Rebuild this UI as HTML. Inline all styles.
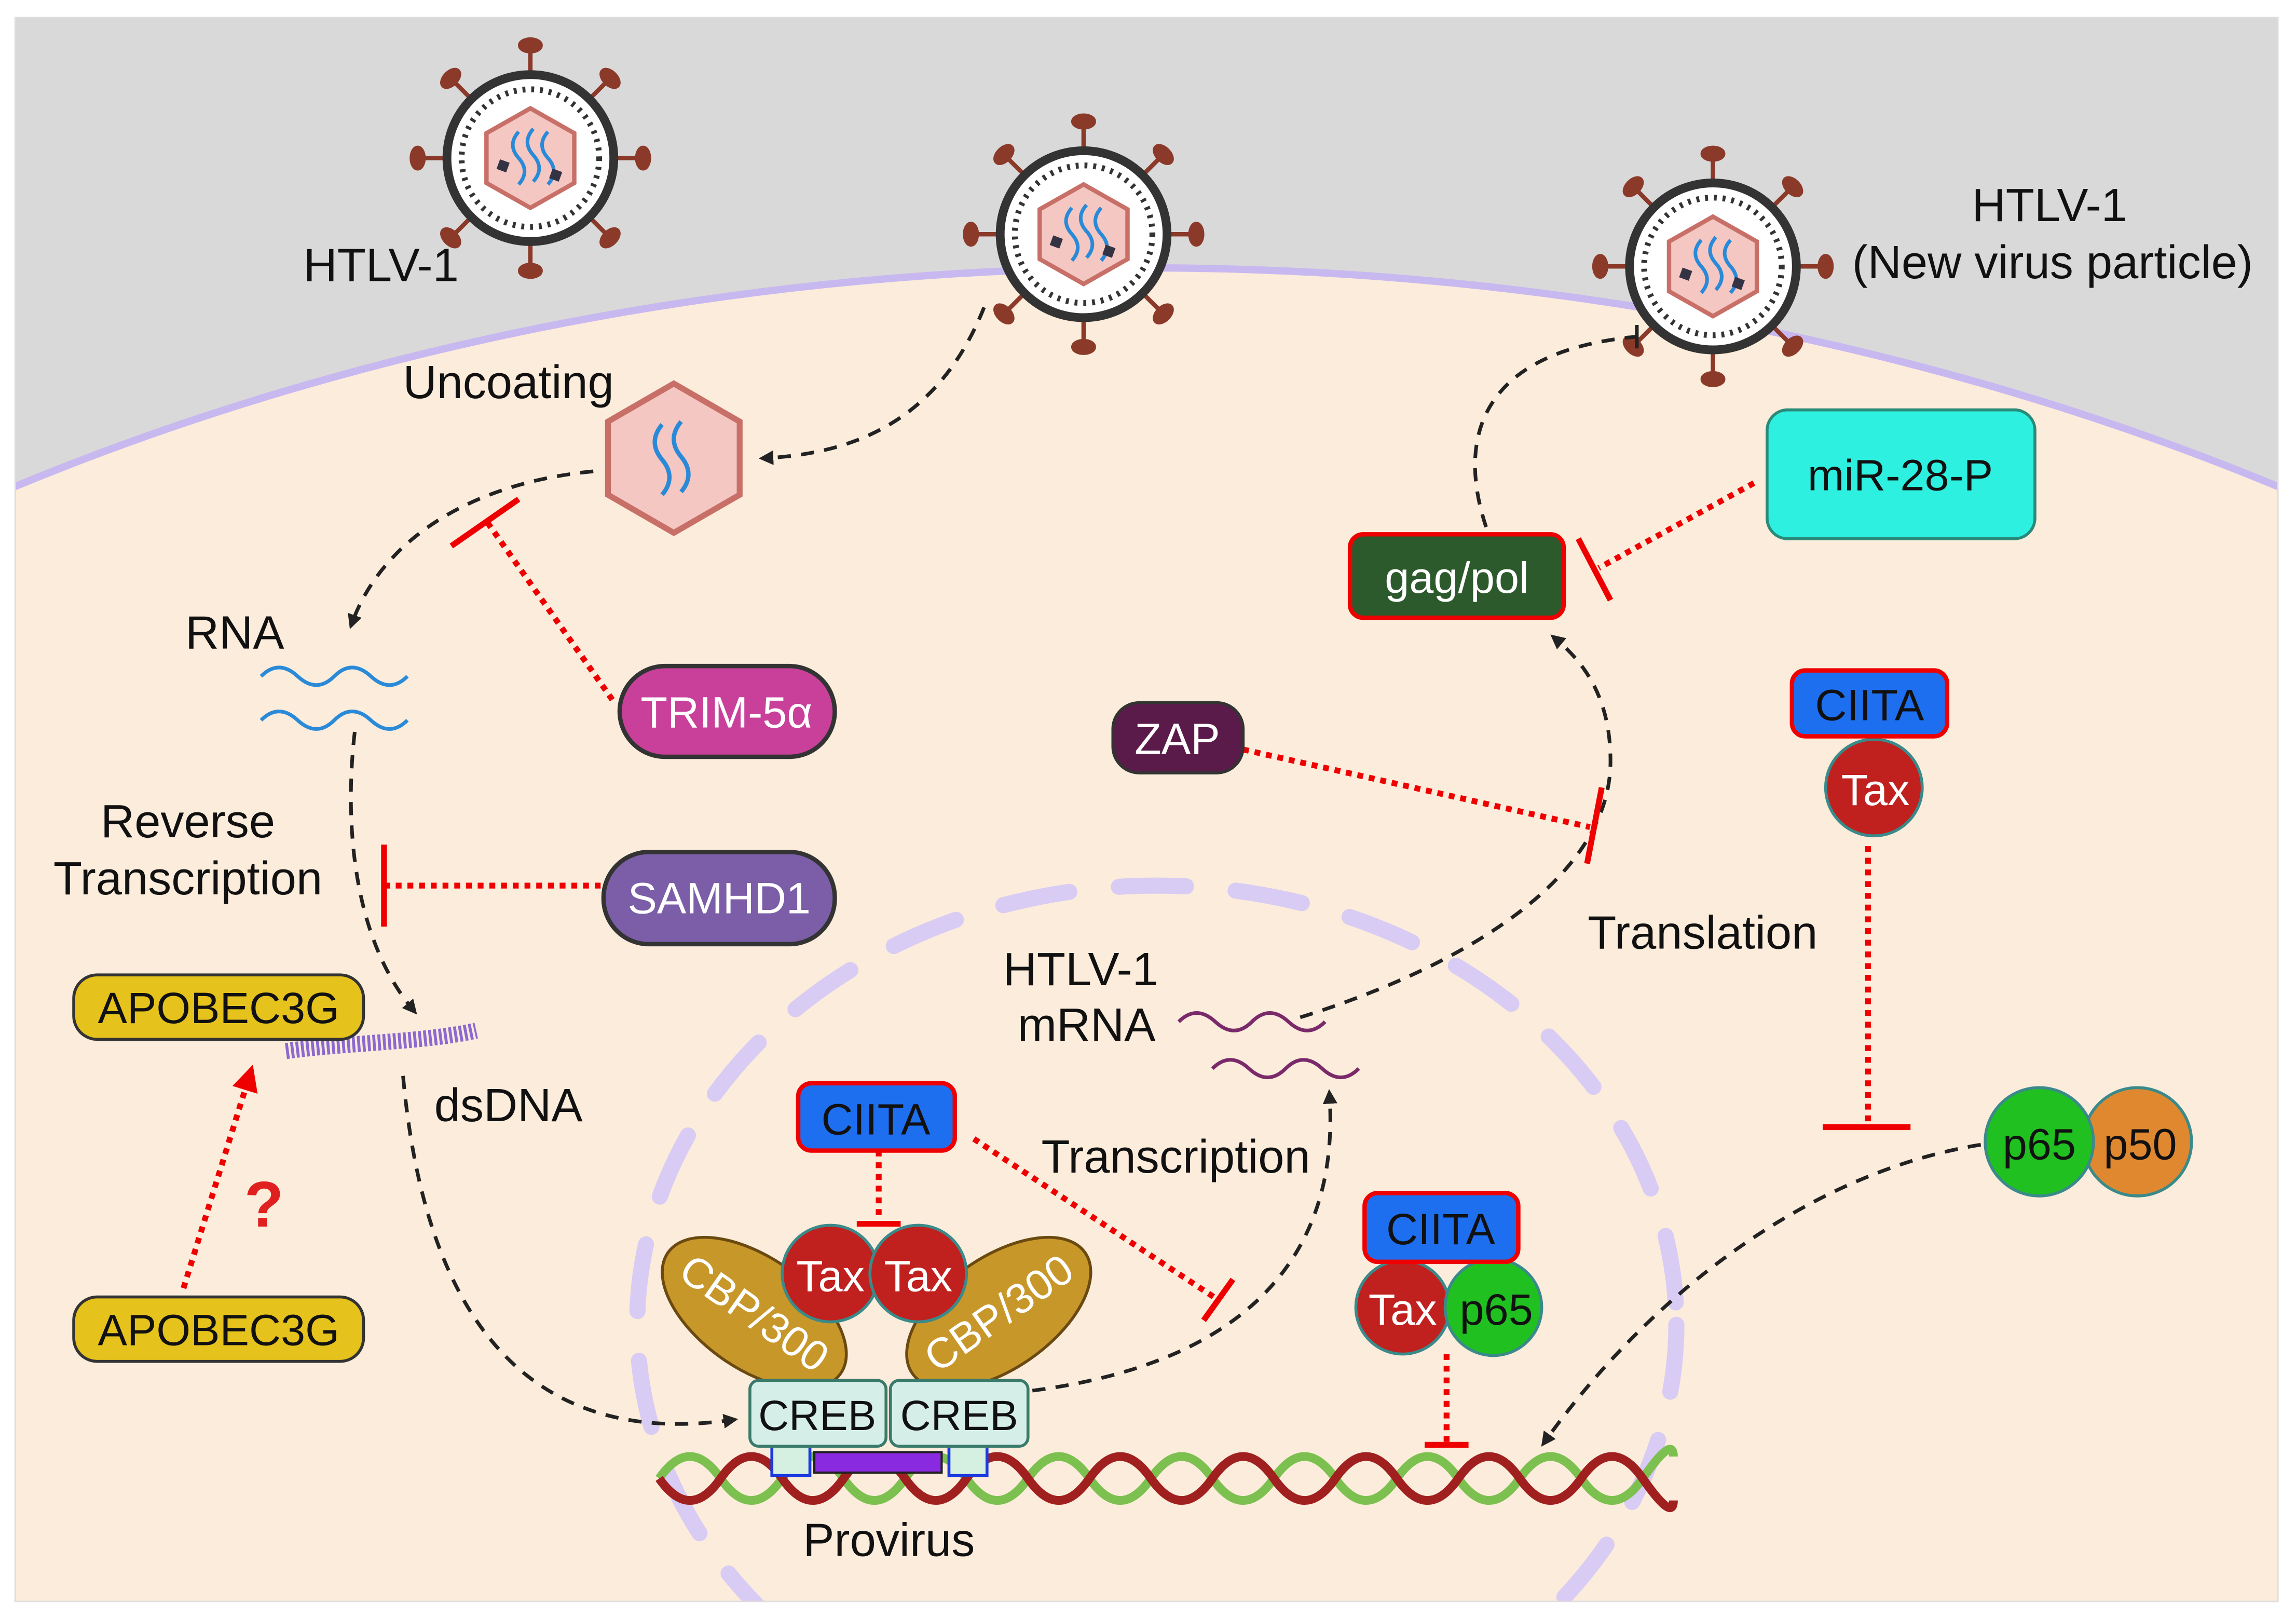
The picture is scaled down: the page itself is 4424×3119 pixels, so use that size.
<!DOCTYPE html>
<html><head><meta charset="utf-8"><style>
html,body{margin:0;padding:0;background:#fff;width:4424px;height:3119px;overflow:hidden}
svg{display:block}
text{font-family:"Liberation Sans",sans-serif}
</style></head><body>
<svg width="4424" height="3119" viewBox="0 0 1568 1106" xmlns="http://www.w3.org/2000/svg">
<defs>
<marker id="ah" markerWidth="10" markerHeight="10" refX="6" refY="5" orient="auto" markerUnits="userSpaceOnUse"><path d="M0,0 L10,5 L0,10 Z" fill="#222"/></marker>
<marker id="rh" markerWidth="18" markerHeight="18" refX="10" refY="9" orient="auto" markerUnits="userSpaceOnUse"><path d="M0,0 L18,9 L0,18 Z" fill="#e00"/></marker>
<clipPath id="fr"><rect x="10" y="12" width="1546" height="1082"/></clipPath>
<g id="virus">
 <g stroke="#8b3a2a" stroke-width="3" fill="#8b3a2a">
  <g id="sp"><line x1="0" y1="-55" x2="0" y2="-75"/><ellipse cx="0" cy="-77" rx="7" ry="4"/></g>
  <use href="#sp" transform="rotate(45)"/><use href="#sp" transform="rotate(90)"/><use href="#sp" transform="rotate(135)"/>
  <use href="#sp" transform="rotate(180)"/><use href="#sp" transform="rotate(225)"/><use href="#sp" transform="rotate(270)"/><use href="#sp" transform="rotate(315)"/>
 </g>
 <circle r="57" fill="#fff" stroke="#333" stroke-width="6"/>
 <circle r="47" fill="none" stroke="#333" stroke-width="4" stroke-dasharray="2 4"/>
 <polygon points="0,-34 30,-17 30,17 0,34 -30,17 -30,-17" fill="#f4c7c3" stroke="#c87068" stroke-width="3"/>
 <path d="M-8,-18 q-8,9 0,18 q8,9 0,18 M2,-20 q-8,9 0,18 q8,9 0,18 M12,-18 q-8,9 0,18 q8,9 0,18" fill="none" stroke="#2a8ad8" stroke-width="2.5"/>
 <rect x="-22" y="2" width="7" height="7" fill="#334" transform="rotate(20 -18 5)"/>
 <rect x="14" y="8" width="7" height="7" fill="#334" transform="rotate(20 17 11)"/>
</g>
</defs>
<rect width="1568" height="1106" fill="#fff"/>
<g clip-path="url(#fr)">
 <rect x="10" y="12" width="1546" height="1082" fill="#d9d9d9"/>
 <ellipse cx="783" cy="1383" rx="1600" ry="1200" fill="#fcecdb" stroke="#c8b8f0" stroke-width="5"/>
 <ellipse cx="790" cy="905" rx="355" ry="300" fill="none" stroke="#d8ccf4" stroke-width="11" stroke-linecap="round" stroke-dasharray="46 34"/>
</g>
<rect x="10" y="12" width="1546" height="1082" fill="none" stroke="#ddd" stroke-width="1"/>

<use href="#virus" x="362" y="108"/>
<use href="#virus" x="740" y="160"/>
<use href="#virus" x="1170" y="182"/>

<g font-size="32" fill="#111">
<text x="260" y="192" text-anchor="middle">HTLV-1</text>
<text x="347" y="272" text-anchor="middle">Uncoating</text>
<text x="160" y="443" text-anchor="middle">RNA</text>
<text x="128" y="572" text-anchor="middle">Reverse</text>
<text x="128" y="611" text-anchor="middle">Transcription</text>
<text x="347" y="766" text-anchor="middle">dsDNA</text>
<text x="607" y="1063" text-anchor="middle">Provirus</text>
<text x="803" y="801" text-anchor="middle">Transcription</text>
<text x="738" y="673" text-anchor="middle">HTLV-1</text>
<text x="742" y="711" text-anchor="middle">mRNA</text>
<text x="1163" y="648" text-anchor="middle">Translation</text>
<text x="1400" y="151" text-anchor="middle">HTLV-1</text>
<text x="1402" y="190" text-anchor="middle">(New virus particle)</text>
</g>

<polygon points="460,262 505,288 505,338 460,364 415,338 415,288" fill="#f4c7c3" stroke="#c87068" stroke-width="4"/>
<path d="M452,290 q-10,12 0,24 q10,12 0,24 M465,288 q-10,12 0,24 q10,12 0,24" fill="none" stroke="#2a8ad8" stroke-width="3"/>

<g fill="none" stroke="#222" stroke-width="2.5" stroke-dasharray="9 7">
<path d="M672,210 C640,290 580,310 522,313" marker-end="url(#ah)"/>
<path d="M405,322 C320,330 260,370 240,426" marker-end="url(#ah)"/>
<path d="M242,500 C235,560 240,640 282,690" marker-end="url(#ah)"/>
<path d="M275,735 C290,900 360,990 500,970" marker-end="url(#ah)"/>
<path d="M705,950 C860,930 915,850 908,748" marker-end="url(#ah)"/>
<path d="M888,695 C1000,660 1100,600 1100,520 C1100,480 1085,455 1062,436" marker-end="url(#ah)"/>
<path d="M1015,360 C995,300 1010,240 1118,230"/>
<path d="M1353,782 C1240,800 1130,880 1055,985" marker-end="url(#ah)"/>
</g>
<line x1="1118" y1="222" x2="1118" y2="238" stroke="#222" stroke-width="2.5"/>

<g fill="none" stroke="#e00" stroke-width="4" stroke-dasharray="4 4">
<path d="M418,478 L332,356"/>
<path d="M262,605 L410,605"/>
<path d="M600,786 L600,835"/>
<path d="M665,778 L832,888"/>
<path d="M849,512 L1086,565"/>
<path d="M1198,330 L1092,388"/>
<path d="M1276,578 L1276,768"/>
<path d="M988,925 L988,985"/>
<path d="M125,880 L170,735" marker-end="url(#rh)"/>
</g>
<g stroke="#e00" stroke-width="4">
<line x1="308" y1="373" x2="354" y2="341"/>
<line x1="262" y1="577" x2="262" y2="633"/>
<line x1="585" y1="836" x2="615" y2="836"/>
<line x1="822" y1="902" x2="842" y2="874"/>
<line x1="1084" y1="590" x2="1094" y2="538"/>
<line x1="1078" y1="368" x2="1100" y2="410"/>
<line x1="1245" y1="770" x2="1305" y2="770"/>
<line x1="973" y1="987" x2="1003" y2="987"/>
</g>
<text x="180" y="838" font-size="44" font-weight="bold" fill="#e02020" text-anchor="middle">?</text>

<g fill="none" stroke-width="2.5">
<path d="M178,462 q12,-12 25,0 t25,0 t25,0 t25,0" stroke="#2a8ad8"/>
<path d="M178,492 q12,-12 25,0 t25,0 t25,0 t25,0" stroke="#2a8ad8"/>
<path d="M805,698 q12,-12 25,0 t25,0 t25,0 t25,0" stroke="#7a2a6a"/>
<path d="M828,730 q12,-12 25,0 t25,0 t25,0 t25,0" stroke="#7a2a6a"/>
</g>
<path d="M195,718 C240,712 290,712 325,704" stroke="#8a6ad0" stroke-width="11" fill="none" stroke-dasharray="2 1.5"/>

<rect x="423" y="455" width="147" height="62" rx="31" fill="#c8409a" stroke="#333" stroke-width="3"/>
<text x="496" y="497" font-size="30" fill="#fff" text-anchor="middle">TRIM-5α</text>
<rect x="412" y="582" width="158" height="63" rx="31" fill="#7b5ea7" stroke="#333" stroke-width="3"/>
<text x="491" y="624" font-size="30" fill="#fff" text-anchor="middle">SAMHD1</text>
<rect x="50" y="666" width="198" height="44" rx="16" fill="#e6c21c" stroke="#333" stroke-width="2"/>
<text x="149" y="699" font-size="30" fill="#111" text-anchor="middle">APOBEC3G</text>
<rect x="50" y="886" width="198" height="44" rx="16" fill="#e6c21c" stroke="#333" stroke-width="2"/>
<text x="149" y="919" font-size="30" fill="#111" text-anchor="middle">APOBEC3G</text>
<rect x="760" y="480" width="89" height="48" rx="18" fill="#5a1a4a" stroke="#333" stroke-width="2"/>
<text x="804" y="515" font-size="30" fill="#fff" text-anchor="middle">ZAP</text>
<rect x="922" y="365" width="146" height="57" rx="9" fill="#2d5a2d" stroke="#e00" stroke-width="3"/>
<text x="995" y="405" font-size="30" fill="#fff" text-anchor="middle">gag/pol</text>
<rect x="1207" y="280" width="183" height="88" rx="14" fill="#2ef0e0" stroke="#2a8a7a" stroke-width="2"/>
<text x="1298" y="335" font-size="30" fill="#111" text-anchor="middle">miR-28-P</text>

<g fill="none" stroke-width="6">
<path d="M450,1010 q21,-30 42,0 t42,0 t42,0 t42,0 t42,0 t42,0 t42,0 t42,0 t42,0 t42,0 t42,0 t42,0 t42,0 t42,0 t42,0 t42,0 t21,-15" stroke="#7cc050"/>
<path d="M450,1010 q21,30 42,0 t42,0 t42,0 t42,0 t42,0 t42,0 t42,0 t42,0 t42,0 t42,0 t42,0 t42,0 t42,0 t42,0 t42,0 t42,0 t21,15" stroke="#a02020"/>
</g>
<rect x="527" y="988" width="26" height="20" fill="#d5efe0" stroke="#1a3ae0" stroke-width="2"/>
<rect x="648" y="988" width="26" height="20" fill="#d5efe0" stroke="#1a3ae0" stroke-width="2"/>
<rect x="556" y="992" width="87" height="14" fill="#8a2ae0" stroke="#222" stroke-width="1.5"/>
<ellipse cx="515" cy="897" rx="72" ry="38" fill="#c8972a" stroke="#6a4a10" stroke-width="2" transform="rotate(35 515 897)"/>
<text x="515" y="907" font-size="29" fill="#fff" text-anchor="middle" transform="rotate(35 515 897)">CBP/300</text>
<ellipse cx="682" cy="897" rx="72" ry="38" fill="#c8972a" stroke="#6a4a10" stroke-width="2" transform="rotate(-35 682 897)"/>
<text x="682" y="907" font-size="29" fill="#fff" text-anchor="middle" transform="rotate(-35 682 897)">CBP/300</text>
<rect x="512" y="943" width="93" height="45" rx="6" fill="#d5efe8" stroke="#3a7a6a" stroke-width="2"/>
<rect x="608" y="943" width="94" height="45" rx="6" fill="#d5efe8" stroke="#3a7a6a" stroke-width="2"/>
<text x="558" y="977" font-size="29" fill="#111" text-anchor="middle">CREB</text>
<text x="655" y="977" font-size="29" fill="#111" text-anchor="middle">CREB</text>
<circle cx="567" cy="870" r="33" fill="#c0201e" stroke="#3a8a8a" stroke-width="2"/>
<circle cx="627" cy="870" r="33" fill="#c0201e" stroke="#3a8a8a" stroke-width="2"/>
<text x="567" y="882" font-size="30" fill="#fff" text-anchor="middle">Tax</text>
<text x="627" y="882" font-size="30" fill="#fff" text-anchor="middle">Tax</text>
<rect x="545" y="740" width="107" height="46" rx="9" fill="#1e6ff0" stroke="#e00" stroke-width="3"/>
<text x="598" y="775" font-size="30" fill="#111" text-anchor="middle">CIITA</text>

<circle cx="958" cy="893" r="32" fill="#c0201e" stroke="#3a8a8a" stroke-width="2"/>
<circle cx="1020" cy="893" r="33" fill="#20c020" stroke="#3a8a8a" stroke-width="2"/>
<text x="958" y="905" font-size="30" fill="#fff" text-anchor="middle">Tax</text>
<text x="1022" y="905" font-size="30" fill="#111" text-anchor="middle">p65</text>
<rect x="932" y="815" width="105" height="47" rx="9" fill="#1e6ff0" stroke="#e00" stroke-width="3"/>
<text x="984" y="850" font-size="30" fill="#111" text-anchor="middle">CIITA</text>

<circle cx="1280" cy="538" r="33" fill="#c0201e" stroke="#3a8a8a" stroke-width="2"/>
<text x="1281" y="550" font-size="30" fill="#fff" text-anchor="middle">Tax</text>
<rect x="1224" y="458" width="106" height="45" rx="9" fill="#1e6ff0" stroke="#e00" stroke-width="3"/>
<text x="1277" y="492" font-size="30" fill="#111" text-anchor="middle">CIITA</text>

<circle cx="1460" cy="780" r="37" fill="#e08830" stroke="#3a8a8a" stroke-width="2"/>
<circle cx="1393" cy="780" r="37" fill="#20c020" stroke="#3a8a8a" stroke-width="2"/>
<text x="1393" y="792" font-size="30" fill="#111" text-anchor="middle">p65</text>
<text x="1462" y="792" font-size="30" fill="#111" text-anchor="middle">p50</text>
</svg>
</body></html>
